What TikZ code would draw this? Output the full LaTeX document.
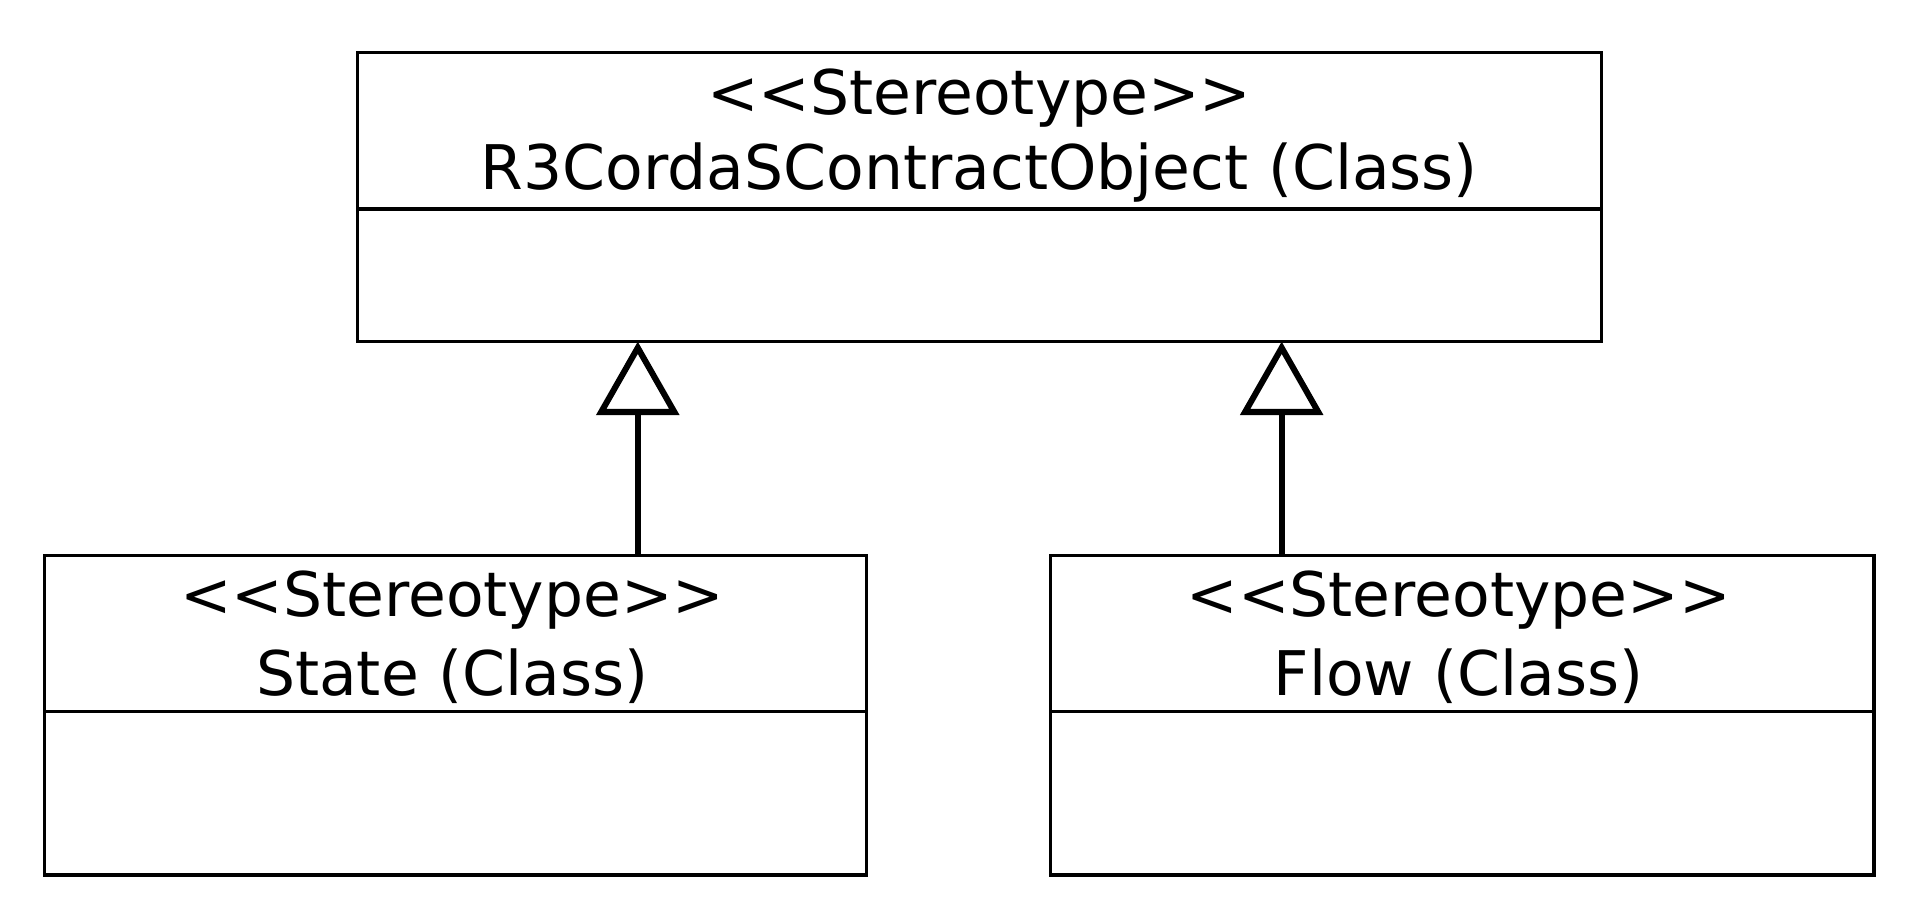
\documentclass[tikz,border=0pt]{standalone}
\usepackage{fontspec}
\setmainfont{DejaVu Sans}
\usetikzlibrary{arrows.meta}
\begin{document}
\begin{tikzpicture}[x=0.02cm,y=-0.02cm,
  box/.style={draw,line width=1.5pt},
  lbl/.style={font=\fontsize{28.5}{31}\selectfont,inner sep=0},
  gen/.style={line width=2.8pt,-{Triangle[open,length=34pt,width=38pt,line width=2.8pt]}}]
\useasboundingbox (0,0) rectangle (1560,746);
\draw[box] (291,43) rectangle (1303,278);
\draw[box] (291,170) -- (1303,170);
\node[lbl] (t1) at (797,80) {{<}{<}Stereotype{>}{>}};
\node[lbl] (t2) at (797,140) {R3CordaSContractObject (Class)};
\coordinate (topL) at (519,278);
\coordinate (topR) at (1043,278);
\draw[box] (36,452) rectangle (705,712);
\draw[box] (36,579) -- (705,579);
\node[lbl] (s1) at (368,488) {{<}{<}Stereotype{>}{>}};
\node[lbl] (s2) at (368,550) {State (Class)};
\coordinate (sTop) at (519,452);
\draw[box] (855,452) rectangle (1525,712);
\draw[box] (855,579) -- (1525,579);
\node[lbl] (f1) at (1187,488) {{<}{<}Stereotype{>}{>}};
\node[lbl] (f2) at (1187,550) {Flow (Class)};
\coordinate (fTop) at (1043,452);
\draw[gen] (sTop) -- (topL);
\draw[gen] (fTop) -- (topR);
\end{tikzpicture}
\end{document}
